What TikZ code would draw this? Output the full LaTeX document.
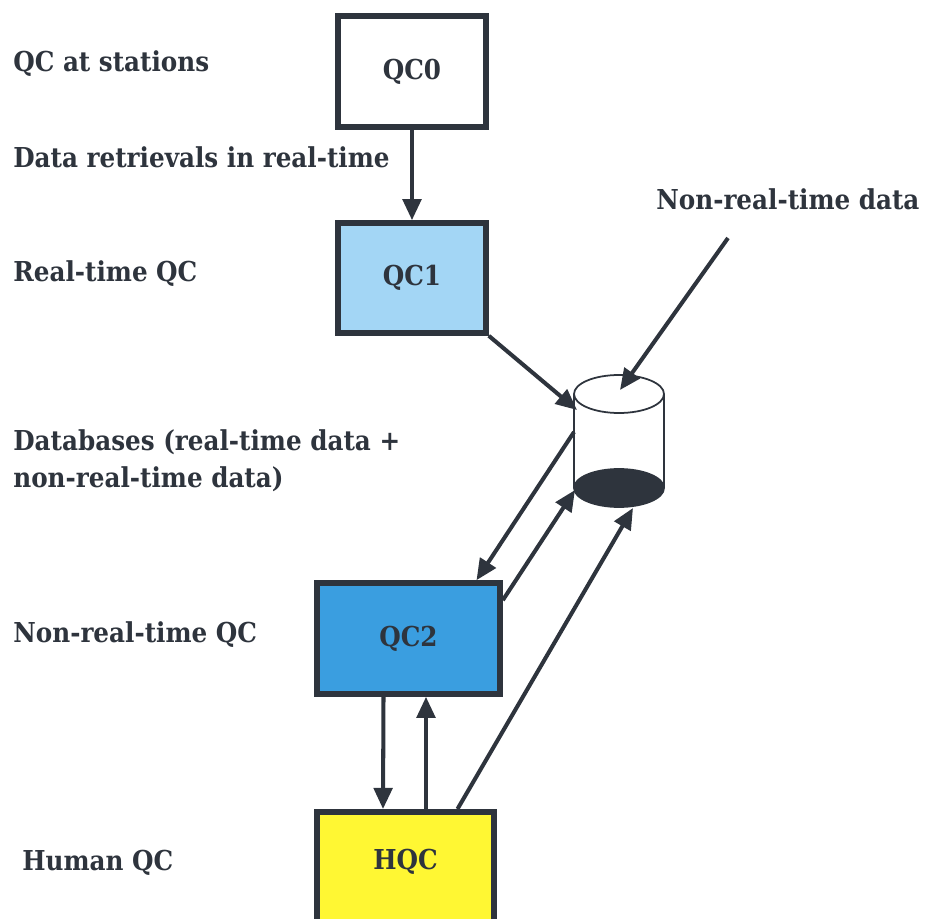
\documentclass[tikz,border=0pt]{standalone}
\usepackage{fontspec}
\setmainfont{DejaVu Serif Condensed}
\usetikzlibrary{arrows.meta,calc}
\definecolor{inkgray}{HTML}{2E343D}
\definecolor{qcone}{HTML}{A3D6F5}
\definecolor{qctwo}{HTML}{3A9EE0}
\definecolor{hqcyel}{HTML}{FFF733}
\tikzset{
  qcbox/.style   = {shape=rectangle, draw=inkgray, line width=3.2pt,
                    font=\fontsize{15.6}{21}\selectfont\bfseries,
                    text=inkgray, inner sep=0pt},
  boxtext/.style = {font=\fontsize{15.6}{21}\selectfont\bfseries,
                    text=inkgray, inner sep=0pt},
  lbl/.style     = {boxtext, anchor=base west, align=left},
  flow/.style    = {draw=inkgray, line width=2.3pt,
                    -{Triangle[length=12pt,width=10.5pt]}},
  dbline/.style  = {draw=inkgray, line width=1pt}
}

\begin{document}
\begin{tikzpicture}[x=0.02cm, y=-0.02cm]
  \useasboundingbox (0,0) rectangle (934,919);
  \clip (0,0) rectangle (934,919);

  % QC levels
  \node [qcbox, minimum width=2.96cm, minimum height=2.22cm] (qc0) at (412,71.5) {QC0};
  \node [qcbox, fill=qcone, minimum width=2.96cm, minimum height=2.2cm] (qc1) at (412,278) {QC1};
  \node [qcbox, fill=qctwo, minimum width=3.66cm, minimum height=2.22cm] (qc2) at (408.5,638.5) {QC2};
  \node [qcbox, fill=hqcyel, minimum width=3.54cm, minimum height=2.6cm, anchor=north] (hqc) at (405.5,809) {};
  \node [boxtext] (hqctext) at (405.5,862) {HQC};

  % database
  \draw [dbline] (574,394) -- (574,488) (664,394) -- (664,488);
  \draw [dbline, fill=white] (619,394) ellipse [x radius=45, y radius=19];
  \draw [dbline, fill=inkgray] (619,488) ellipse [x radius=45, y radius=19];
  \coordinate (dbtop)    at (620,390);
  \coordinate (dbleft)   at (577,410);
  \coordinate (dbside)   at (574,432);
  \coordinate (dbback)   at (575,490);
  \coordinate (dbbottom) at (633,508);
  \coordinate (nrtfrom)  at (728,238);

  % labels
  \node [lbl] (lblstations) at (13,72)  {QC at stations};
  \node [lbl] (lblretrieve) at (13,168) {Data retrievals in real-time};
  \node [lbl] (lblrealtime) at (13,281) {Real-time QC};
  \node [lbl, anchor=west] (lbldatabase) at (13,461) {Databases (real-time data +\\non-real-time data)};
  \node [lbl] (lblnonreal)  at (13,642) {Non-real-time QC};
  \node [lbl] (lblhuman)    at (22,870) {Human QC};
  \node [lbl] (lblnrtdata)  at (656,210) {Non-real-time data};

  % flows
  \draw [flow] (qc0) -- (qc1);
  \draw [flow] (qc1.south east) -- (dbleft);
  \draw [flow] (nrtfrom) -- (dbtop);
  \draw [flow] (dbside) -- ($(qc2.north)+(68,0)$);
  \draw [flow] ($(qc2.north east)+(0,20)$) -- (dbback);
  \draw [flow] ($(hqc.north)+(52,0)$) -- (dbbottom);
  \draw [flow] ($(qc2.south)+(-25,0)$) -- ($(hqc.north)+(-22.5,0)$);
  \draw [flow] ($(hqc.north)+(20.5,0)$) -- ($(qc2.south)+(17.5,0)$);
\end{tikzpicture}
\end{document}
